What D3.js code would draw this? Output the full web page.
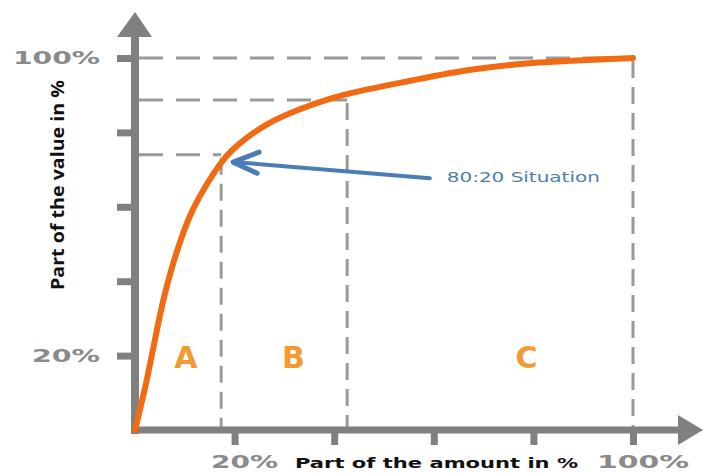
<!DOCTYPE html>
<html>
<head>
<meta charset="utf-8">
<script src="https://cdn.jsdelivr.net/npm/d3@7"></script>
<style>
  html, body { margin: 0; padding: 0; background: #fff; }
  svg { display: block; }
</style>
</head>
<body>
<svg id="chart" width="703" height="473"></svg>
<script>
// ---- data (percent of amount -> cumulative percent of value) ----
const amountPct = [0, 2.0, 4.0, 5.6, 7.4, 9.4, 11.6, 14.5, 17.5, 19.1, 22.5, 27.1, 32.5, 39.2, 45.2, 53.2, 66.7, 79.9, 100];
const valuePct  = [0, 10.8, 24.2, 34.9, 43.8, 52.2, 59.6, 66.4, 72.4, 74.8, 78.8, 82.8, 86.0, 89.2, 91.2, 93.3, 97.0, 98.9, 100];
const tickValues = [20, 40, 60, 80, 100];
const xTickLabels = [{v: 20, t: "20%"}, {v: 100, t: "100%"}];
const yTickLabels = [{v: 20, t: "20%"}, {v: 100, t: "100%"}];
const boundaries = [{x: 17.3, y: 74}, {x: 42.6, y: 88.7}, {x: 100, y: 100}];
const classLabels = ["A", "B", "C"];
const classCenters = [10.2, 31.8, 78.6];
const annotation = {text: "80:20 Situation", tip: [19.7, 72], tail: [59.2, 67.7]};
const xTitle = "Part of the amount in %";
const yTitle = "Part of the value in %";

const svg = d3.select("#chart");
const x = d3.scaleLinear([0, 100], [135, 633]);
const y = d3.scaleLinear([0, 100], [430, 58]);

const AX = "#808080", DASH = "#9a9a9a", ORANGE = "#f26b12", LABEL_OR = "#f39a32", BLUE = "#4a7cb5";

// dashed guide lines
const g = svg.append("g");
boundaries.forEach(b => {
  g.append("line").attr("x1", x(0) + 4).attr("x2", x(b.x)).attr("y1", y(b.y)).attr("y2", y(b.y))
    .attr("stroke", DASH).attr("stroke-width", 3).attr("stroke-dasharray", "24 13");
  g.append("line").attr("x1", x(b.x)).attr("x2", x(b.x)).attr("y1", y(b.y) + 3).attr("y2", y(0) - 3)
    .attr("stroke", DASH).attr("stroke-width", 3).attr("stroke-dasharray", "17 9");
});

// axes ticks via d3 axes
const yAxis = d3.axisLeft(y).tickValues(tickValues).tickSize(18).tickFormat("");
const xAxis = d3.axisBottom(x).tickValues(tickValues).tickSize(15).tickFormat("");
const ya = svg.append("g").attr("transform", `translate(${x(0)},0)`).call(yAxis);
const xa = svg.append("g").attr("transform", `translate(0,${y(0)})`).call(xAxis);
[ya, xa].forEach(a => {
  a.select(".domain").remove();
  a.selectAll(".tick line").attr("stroke", AX).attr("stroke-width", 7);
});

// axis lines with arrowheads
svg.append("line").attr("x1", x(0)).attr("x2", x(0)).attr("y1", y(0) + 4).attr("y2", 36)
  .attr("stroke", AX).attr("stroke-width", 8);
svg.append("path").attr("d", `M${x(0)},12 L${x(0) + 17},37 L${x(0) - 18},37 Z`).attr("fill", AX);
svg.append("line").attr("x1", x(0) - 4).attr("x2", 679).attr("y1", y(0)).attr("y2", y(0))
  .attr("stroke", AX).attr("stroke-width", 7);
svg.append("path").attr("d", `M703,${y(0)} L678,${y(0) - 15} L678,${y(0) + 15} Z`).attr("fill", AX);

// curve
const pts = amountPct.map((a, i) => [a, valuePct[i]]);
svg.append("path").datum(pts)
  .attr("d", d3.line().x(d => x(d[0])).y(d => y(d[1])).curve(d3.curveBasis))
  .attr("fill", "none").attr("stroke", ORANGE).attr("stroke-width", 6).attr("stroke-linecap", "round");

// tick labels
const tickFont = "'DejaVu Sans', Verdana, sans-serif";
yTickLabels.forEach(d => {
  const w = d.t.length === 4 ? 87 : 68;
  svg.append("text").attr("x", x(0) - 35 - w).attr("y", y(d.v) + 6)
    .attr("font-family", tickFont).attr("font-weight", "bold").attr("font-size", 18)
    .attr("fill", "#8a8a8a").attr("textLength", w).attr("lengthAdjust", "spacingAndGlyphs").text(d.t);
});
xTickLabels.forEach(d => {
  const w = d.t.length === 4 ? 92 : 67;
  svg.append("text").attr("x", x(d.v) + 10 - w / 2).attr("y", 468)
    .attr("font-family", tickFont).attr("font-weight", "bold").attr("font-size", 17)
    .attr("fill", "#8a8a8a").attr("textLength", w).attr("lengthAdjust", "spacingAndGlyphs").text(d.t);
});

// axis titles
svg.append("text").attr("x", 295).attr("y", 468)
  .attr("font-family", tickFont).attr("font-weight", "bold").attr("font-size", 14)
  .attr("fill", "#111").attr("textLength", 283).attr("lengthAdjust", "spacingAndGlyphs").text(xTitle);
svg.append("text").attr("transform", "translate(64,290) rotate(-90)")
  .attr("font-family", "'Open Sans', 'DejaVu Sans', sans-serif").attr("font-weight", "bold").attr("font-size", 17)
  .attr("fill", "#111").attr("textLength", 210).attr("lengthAdjust", "spacingAndGlyphs").text(yTitle);

// class labels A B C
classLabels.forEach((c, i) => {
  svg.append("text").attr("x", x(classCenters[i])).attr("y", 368).attr("text-anchor", "middle")
    .attr("font-family", "'DejaVu Sans', sans-serif").attr("font-weight", "bold").attr("font-size", 30)
    .attr("fill", LABEL_OR).text(c);
});

// annotation arrow
const tip = [x(annotation.tip[0]), y(annotation.tip[1])];
const tail = [x(annotation.tail[0]), y(annotation.tail[1])];
svg.append("line").attr("x1", tip[0] + 3).attr("y1", tip[1]).attr("x2", tail[0]).attr("y2", tail[1])
  .attr("stroke", BLUE).attr("stroke-width", 4).attr("stroke-linecap", "round");
svg.append("path").attr("d", `M${tip[0] + 26},${tip[1] - 10} L${tip[0]},${tip[1]} L${tip[0] + 24},${tip[1] + 11}`)
  .attr("fill", "none").attr("stroke", BLUE).attr("stroke-width", 5).attr("stroke-linecap", "round").attr("stroke-linejoin", "round");
svg.append("text").attr("x", tail[0] + 17).attr("y", tail[1] + 4)
  .attr("font-family", "'DejaVu Sans', Verdana, sans-serif").attr("font-size", 14)
  .attr("fill", "#4f7ea8").attr("textLength", 153).attr("lengthAdjust", "spacingAndGlyphs").text(annotation.text);
</script>
</body>
</html>
